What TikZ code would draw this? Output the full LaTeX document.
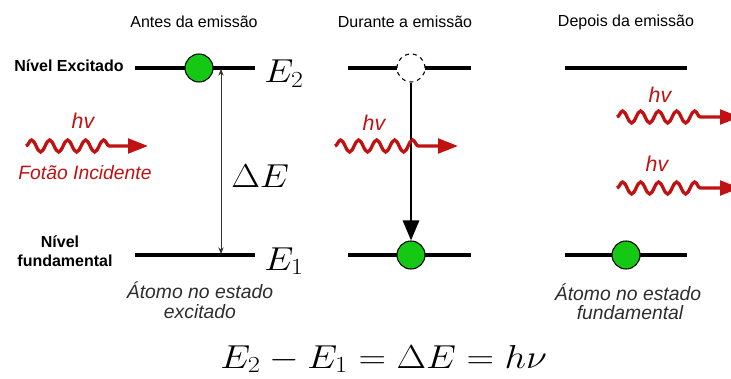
\documentclass[tikz,border=0pt]{standalone}
\usepackage{fontspec}
\setsansfont{Liberation Sans}
\usetikzlibrary{arrows.meta,decorations.pathmorphing}
\definecolor{phred}{RGB}{192,18,18}
\definecolor{atomgreen}{RGB}{20,200,20}
\definecolor{captxt}{RGB}{45,45,45}
\begin{document}
\begin{tikzpicture}[x=0.75pt,y=-0.75pt,
  head/.style={font=\sffamily\fontsize{12}{14}\selectfont},
  side/.style={font=\sffamily\bfseries\fontsize{12}{14}\selectfont},
  captext/.style={font=\sffamily\itshape\fontsize{14.5}{17}\selectfont,text=captxt},
  red lbl/.style={font=\sffamily\itshape\fontsize{14.5}{17}\selectfont,text=phred},
  hv lbl/.style={font=\sffamily\itshape\fontsize{16}{18}\selectfont,text=phred},
  level/.style={line width=3pt,black},
  atom/.style={circle,fill=atomgreen,draw=black,line width=0.8pt,minimum size=21pt,inner sep=0pt},
  ghost/.style={circle,fill=white,draw=black,dashed,line width=0.8pt,minimum size=21pt,inner sep=0pt},
  bigmath/.style={inner sep=0pt,font=\fontsize{25.5}{30}\selectfont},
  photon/.style={phred,line width=2.5pt,
    decoration={snake,segment length=13.5pt,amplitude=4.5pt,post length=26pt},
    decorate,-{Triangle[length=15pt,width=11pt]}},
]
\useasboundingbox (0,0) rectangle (731,378);
\clip (0,0) rectangle (731,378);

% headers
\node[head] (h1) at (194,22) {Antes da emissão};
\node[head] (h2) at (405,22) {Durante a emissão};
\node[head] (h3) at (626,22) {Depois da emissão};

% side labels
\node[side] (nex) at (69,66) {Nível Excitado};
\node[side] (nf1) at (60,242) {Nível};
\node[side] (nf2) at (65,261) {fundamental};

% ----- panel 1
\coordinate (a2l) at (135,68); \coordinate (a2r) at (255,68);
\coordinate (a1l) at (135,255); \coordinate (a1r) at (255,255);
\draw[level] (a2l) -- (a2r);
\draw[level] (a1l) -- (a1r);
\node[atom] (c1) at (199,68) {};
\coordinate (dt) at (221,69); \coordinate (db) at (221,254);
\draw[line width=0.6pt,black!80,{Stealth[length=5pt,width=4pt]}-{Stealth[length=5pt,width=4pt]}] (dt) -- (db);
\node[bigmath,anchor=base west] (e2) at (264,83) {\scalebox{1.12}[1]{$E_2$}};
\node[bigmath,anchor=base west] (e1) at (264,270) {\scalebox{1.12}[1]{$E_1$}};
\node[bigmath,anchor=base west] (de) at (231,187) {\scalebox{1.12}[1]{$\Delta E$}};
\coordinate (p1s) at (26,146); \coordinate (p1e) at (148,146);
\draw[photon] (p1s) -- (p1e);
\node[hv lbl] (hv1) at (83,121) {hv};
\node[red lbl] (fi) at (85,173) {Fotão Incidente};
\node[captext] (ca1) at (200,290) {Átomo no estado};
\node[captext] (ca2) at (200,312) {excitado};

% ----- panel 2
\coordinate (b2l) at (348,68); \coordinate (b2r) at (471,68);
\coordinate (b1l) at (348,255); \coordinate (b1r) at (471,255);
\draw[level] (b2l) -- (b2r);
\draw[level] (b1l) -- (b1r);
\node[ghost] (g2) at (411,68) {};
\node[atom] (c2) at (411,255) {};
\draw[line width=2.2pt,-{Triangle[length=15pt,width=12pt]}] (g2) -- (c2);
\coordinate (p2s) at (335,146); \coordinate (p2e) at (458,146);
\draw[photon] (p2s) -- (p2e);
\node[hv lbl] (hv2) at (374,123) {hv};

% ----- panel 3
\coordinate (r2l) at (565,68); \coordinate (r2r) at (687,68);
\coordinate (r1l) at (565,255); \coordinate (r1r) at (687,255);
\draw[level] (r2l) -- (r2r);
\draw[level] (r1l) -- (r1r);
\node[atom] (c3) at (626,255) {};
\coordinate (p3s) at (617,117); \coordinate (p3e) at (740,117);
\draw[photon] (p3s) -- (p3e);
\coordinate (p4s) at (617,188); \coordinate (p4e) at (740,188);
\draw[photon] (p4s) -- (p4e);
\node[hv lbl] (hv3) at (660,95) {hv};
\node[hv lbl] (hv4) at (657,164) {hv};
\node[captext] (cb1) at (628,292) {Átomo no estado};
\node[captext] (cb2) at (630,313) {fundamental};

% equation
\node[inner sep=0pt,anchor=base west,font=\fontsize{27}{32}\selectfont] (eq) at (220,368) {\scalebox{1.15}[1]{$E_2 - E_1 = \Delta E = h\nu$}};
\end{tikzpicture}
\end{document}
